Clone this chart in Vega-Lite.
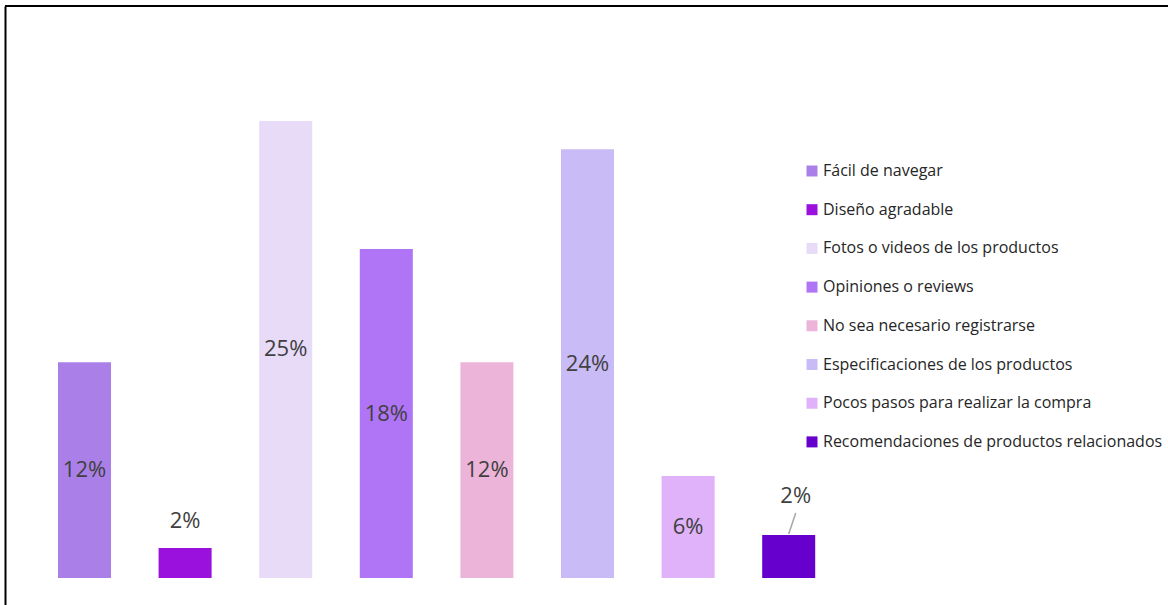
{
  "$schema": "https://vega.github.io/schema/vega-lite/v6.json",
  "autosize": "none",
  "width": 1163,
  "height": 599,
  "padding": {"left": 5, "top": 6, "right": 0, "bottom": 0},
  "background": "white",
  "config": {
    "view": {"stroke": null},
    "font": "Open Sans"
  },
  "data": {
    "values": [
      {"opcion": "Fácil de navegar", "valor": 0.119},
      {"opcion": "Diseño agradable", "valor": 0.0165},
      {"opcion": "Fotos o videos de los productos", "valor": 0.252},
      {"opcion": "Opiniones o reviews", "valor": 0.1814},
      {"opcion": "No sea necesario registrarse", "valor": 0.119},
      {"opcion": "Especificaciones de los productos", "valor": 0.2364},
      {"opcion": "Pocos pasos para realizar la compra", "valor": 0.0562},
      {"opcion": "Recomendaciones de productos relacionados", "valor": 0.0237}
    ]
  },
  "layer": [
    {
      "mark": {"type": "bar"},
      "encoding": {
        "x": {
          "field": "opcion", "type": "nominal", "sort": null,
          "scale": {"range": [29.2, 834], "paddingInner": 0.473, "paddingOuter": 0.2365, "align": 0.5, "round": false},
          "axis": null
        },
        "y": {
          "field": "valor", "type": "quantitative",
          "scale": {"domain": [-0.01489, 0.31541], "nice": false, "zero": false},
          "axis": {"title": null, "labels": false, "ticks": false, "grid": false, "domainColor": "#000000", "domainWidth": 2}
        },
        "color": {
          "field": "opcion", "type": "nominal", "sort": null,
          "scale": {
            "domain": ["Fácil de navegar", "Diseño agradable", "Fotos o videos de los productos", "Opiniones o reviews", "No sea necesario registrarse", "Especificaciones de los productos", "Pocos pasos para realizar la compra", "Recomendaciones de productos relacionados"],
            "range": ["#AA80E8", "#9A10DD", "#E8DBF8", "#B074F6", "#EDB4D9", "#C9BBF6", "#E0B2F9", "#6600CC"]
          },
          "legend": {
            "title": null,
            "orient": "none",
            "legendX": 799,
            "legendY": 157,
            "padding": 0,
            "symbolType": "square",
            "symbolSize": 121,
            "symbolStrokeWidth": 0,
            "labelFont": "Open Sans",
            "labelFontSize": 16,
            "labelColor": "#262626",
            "labelOffset": 3,
            "labelLimit": 400,
            "rowPadding": 22.7
          }
        }
      }
    },
    {
      "transform": [
        {"filter": "datum.valor > 0.05"},
        {"calculate": "datum.valor / 2", "as": "medio"}
      ],
      "mark": {"type": "text", "fontSize": 22, "color": "#404040", "baseline": "middle", "align": "center"},
      "encoding": {
        "x": {"field": "opcion", "type": "nominal", "sort": null},
        "y": {"field": "medio", "type": "quantitative"},
        "text": {"field": "valor", "type": "quantitative", "format": ".0%"}
      }
    },
    {
      "transform": [{"filter": "datum.opcion == 'Diseño agradable'"}],
      "mark": {"type": "text", "fontSize": 22, "color": "#404040", "baseline": "middle", "align": "center", "dy": -27},
      "encoding": {
        "x": {"field": "opcion", "type": "nominal", "sort": null},
        "y": {"field": "valor", "type": "quantitative"},
        "text": {"field": "valor", "type": "quantitative", "format": ".0%"}
      }
    },
    {
      "transform": [{"filter": "datum.opcion == 'Recomendaciones de productos relacionados'"}],
      "mark": {"type": "text", "fontSize": 22, "color": "#404040", "baseline": "middle", "align": "center", "dy": -39, "dx": 7},
      "encoding": {
        "x": {"field": "opcion", "type": "nominal", "sort": null},
        "y": {"field": "valor", "type": "quantitative"},
        "text": {"field": "valor", "type": "quantitative", "format": ".0%"}
      }
    },
    {
      "transform": [{"filter": "datum.opcion == 'Recomendaciones de productos relacionados'"}],
      "mark": {"type": "rule", "color": "#A6A6A6", "strokeWidth": 1.5, "x2Offset": 7, "yOffset": -1, "y2Offset": -22},
      "encoding": {
        "x": {"field": "opcion", "type": "nominal", "sort": null},
        "x2": {"field": "opcion"},
        "y": {"field": "valor", "type": "quantitative"},
        "y2": {"field": "valor"}
      }
    },
    {
      "transform": [{"aggregate": [{"op": "count", "as": "n"}]}],
      "mark": {"type": "rule", "color": "#000000", "strokeWidth": 2},
      "encoding": {
        "y": {"datum": 0.31541, "type": "quantitative"}
      }
    }
  ]
}
